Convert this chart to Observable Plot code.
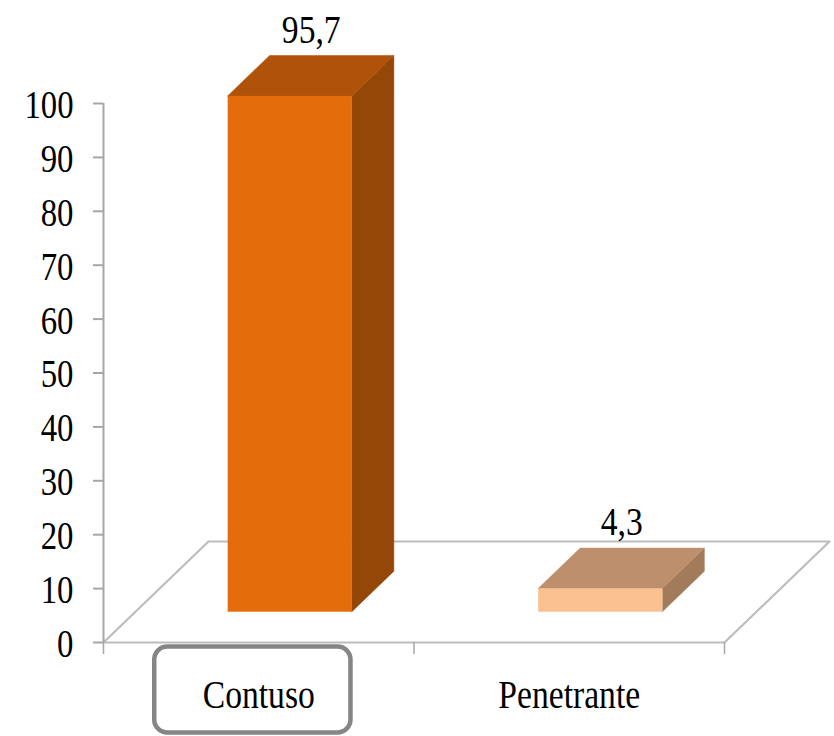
<!DOCTYPE html>
<html>
<head>
<meta charset="utf-8">
<script src="https://cdn.jsdelivr.net/npm/d3@7"></script>
<script src="https://cdn.jsdelivr.net/npm/@observablehq/plot@0.6"></script>
<style>
  html, body { margin: 0; padding: 0; background: #fff; }
  svg { display: block; }
</style>
</head>
<body>
<script>
// Injury mechanism share (%)
const categories = ["Contuso", "Penetrante"];
const values = [95.7, 4.3];
const yTicks = [0, 10, 20, 30, 40, 50, 60, 70, 80, 90, 100];
const highlighted = "Contuso";

// Face colours per bar: front, top, side
const frontColors = ["#E46C0A", "#FAC090"];
const topColors = ["#B0530A", "#BE8F6D"];
const sideColors = ["#954707", "#A27B5A"];

// Frame geometry
const width = 834, height = 736;
const marginLeft = 103, marginRight = 110, marginTop = 103, marginBottom = 94;
const innerW = width - marginLeft - marginRight;
const innerH = height - marginTop - marginBottom;
const xPerPx = categories.length / innerW;   // category units per pixel
const yPerPx = 100 / innerH;                 // value units per pixel

// Oblique depth of the floor, expressed in data units
const Dx = 105 * xPerPx;
const Dy = 101 * yPerPx;
const barW = 0.4;          // bar width as a fraction of a category band
const z0 = 0.3, z1 = 0.7;  // bar front / back, as fractions of the floor depth

const fmt = v => String(v).replace(".", ",");

const bars = categories.map((c, i) => ({c, i, v: values[i],
  xl: i + 0.5 - barW / 2, xr: i + 0.5 + barW / 2}));

// Floor parallelogram
const floor = [
  {x: 0, y: 0}, {x: categories.length, y: 0},
  {x: categories.length + Dx, y: Dy}, {x: Dx, y: Dy}, {x: 0, y: 0}
];

const barMarks = bars.flatMap(b => {
  const side = [
    {x: b.xr + z0 * Dx, y1: z0 * Dy, y2: z0 * Dy + b.v},
    {x: b.xr + z1 * Dx, y1: z1 * Dy, y2: z1 * Dy + b.v}
  ];
  const top = [
    {y: z0 * Dy + b.v, x1: b.xl + z0 * Dx, x2: b.xr + z0 * Dx},
    {y: z1 * Dy + b.v, x1: b.xl + z1 * Dx, x2: b.xr + z1 * Dx}
  ];
  return [
    Plot.areaY(side, {x: "x", y1: "y1", y2: "y2", fill: sideColors[b.i], stroke: sideColors[b.i], strokeWidth: 0.5}),
    Plot.areaX(top, {y: "y", x1: "x1", x2: "x2", fill: topColors[b.i], stroke: topColors[b.i], strokeWidth: 0.5}),
    Plot.rect([b], {x1: d => d.xl + z0 * Dx, x2: d => d.xr + z0 * Dx,
      y1: z0 * Dy, y2: d => z0 * Dy + d.v, fill: frontColors[b.i]})
  ];
});

const hi = categories.indexOf(highlighted);

const chart = Plot.plot({
  width, height, marginLeft, marginRight, marginTop, marginBottom,
  x: {domain: [0, categories.length], axis: null},
  y: {domain: [0, 100], axis: null},
  style: {fontFamily: "'Liberation Serif', 'DejaVu Serif', serif", background: "#fff", color: "#000"},
  marks: [
    // floor
    Plot.line(floor, {x: "x", y: "y", stroke: "#bdbdbd", strokeWidth: 2.2}),
    ...barMarks,
    // value labels above each bar
    Plot.text(bars, {x: d => d.i + 0.5 + 0.5 * Dx, y: d => z1 * Dy + d.v, text: d => fmt(d.v),
      dy: -26, fontSize: 40, fill: "#000"}),
    // y axis
    Plot.ruleX([0], {y1: 0, y2: 100, stroke: "#a6a6a6", strokeWidth: 2}),
    Plot.ruleY(yTicks, {y: d => d, x1: -10 * xPerPx, x2: 0, stroke: "#a6a6a6", strokeWidth: 2}),
    Plot.text(yTicks, {x: 0, y: d => d, text: d => String(d), textAnchor: "end", dx: -30, dy: 2,
      fontSize: 39, fill: "#000"}),
    // x axis ticks at band edges
    Plot.ruleX(d3.range(categories.length + 1), {y1: 0, y2: -12 * yPerPx, stroke: "#a6a6a6", strokeWidth: 1.5}),
    // category labels
    Plot.text(categories, {x: (d, i) => i + 0.5, y: 0, dy: 53, text: d => d, fontSize: 40, fill: "#000"}),
    // highlight box around the first category label
    Plot.rect([highlighted], {x1: hi + 0.165, x2: hi + 0.797,
      y1: -4.5 * yPerPx, y2: -90.5 * yPerPx, rx: 13,
      fill: "none", stroke: "#858585", strokeWidth: 4.5})
  ]
});

document.body.append(chart);

// Narrow the serif lettering to a condensed width
chart.querySelectorAll("text").forEach(t => {
  const len = t.getComputedTextLength();
  if (len > 0) {
    t.setAttribute("textLength", (len * 0.84).toFixed(1));
    t.setAttribute("lengthAdjust", "spacingAndGlyphs");
  }
});
</script>
</body>
</html>
